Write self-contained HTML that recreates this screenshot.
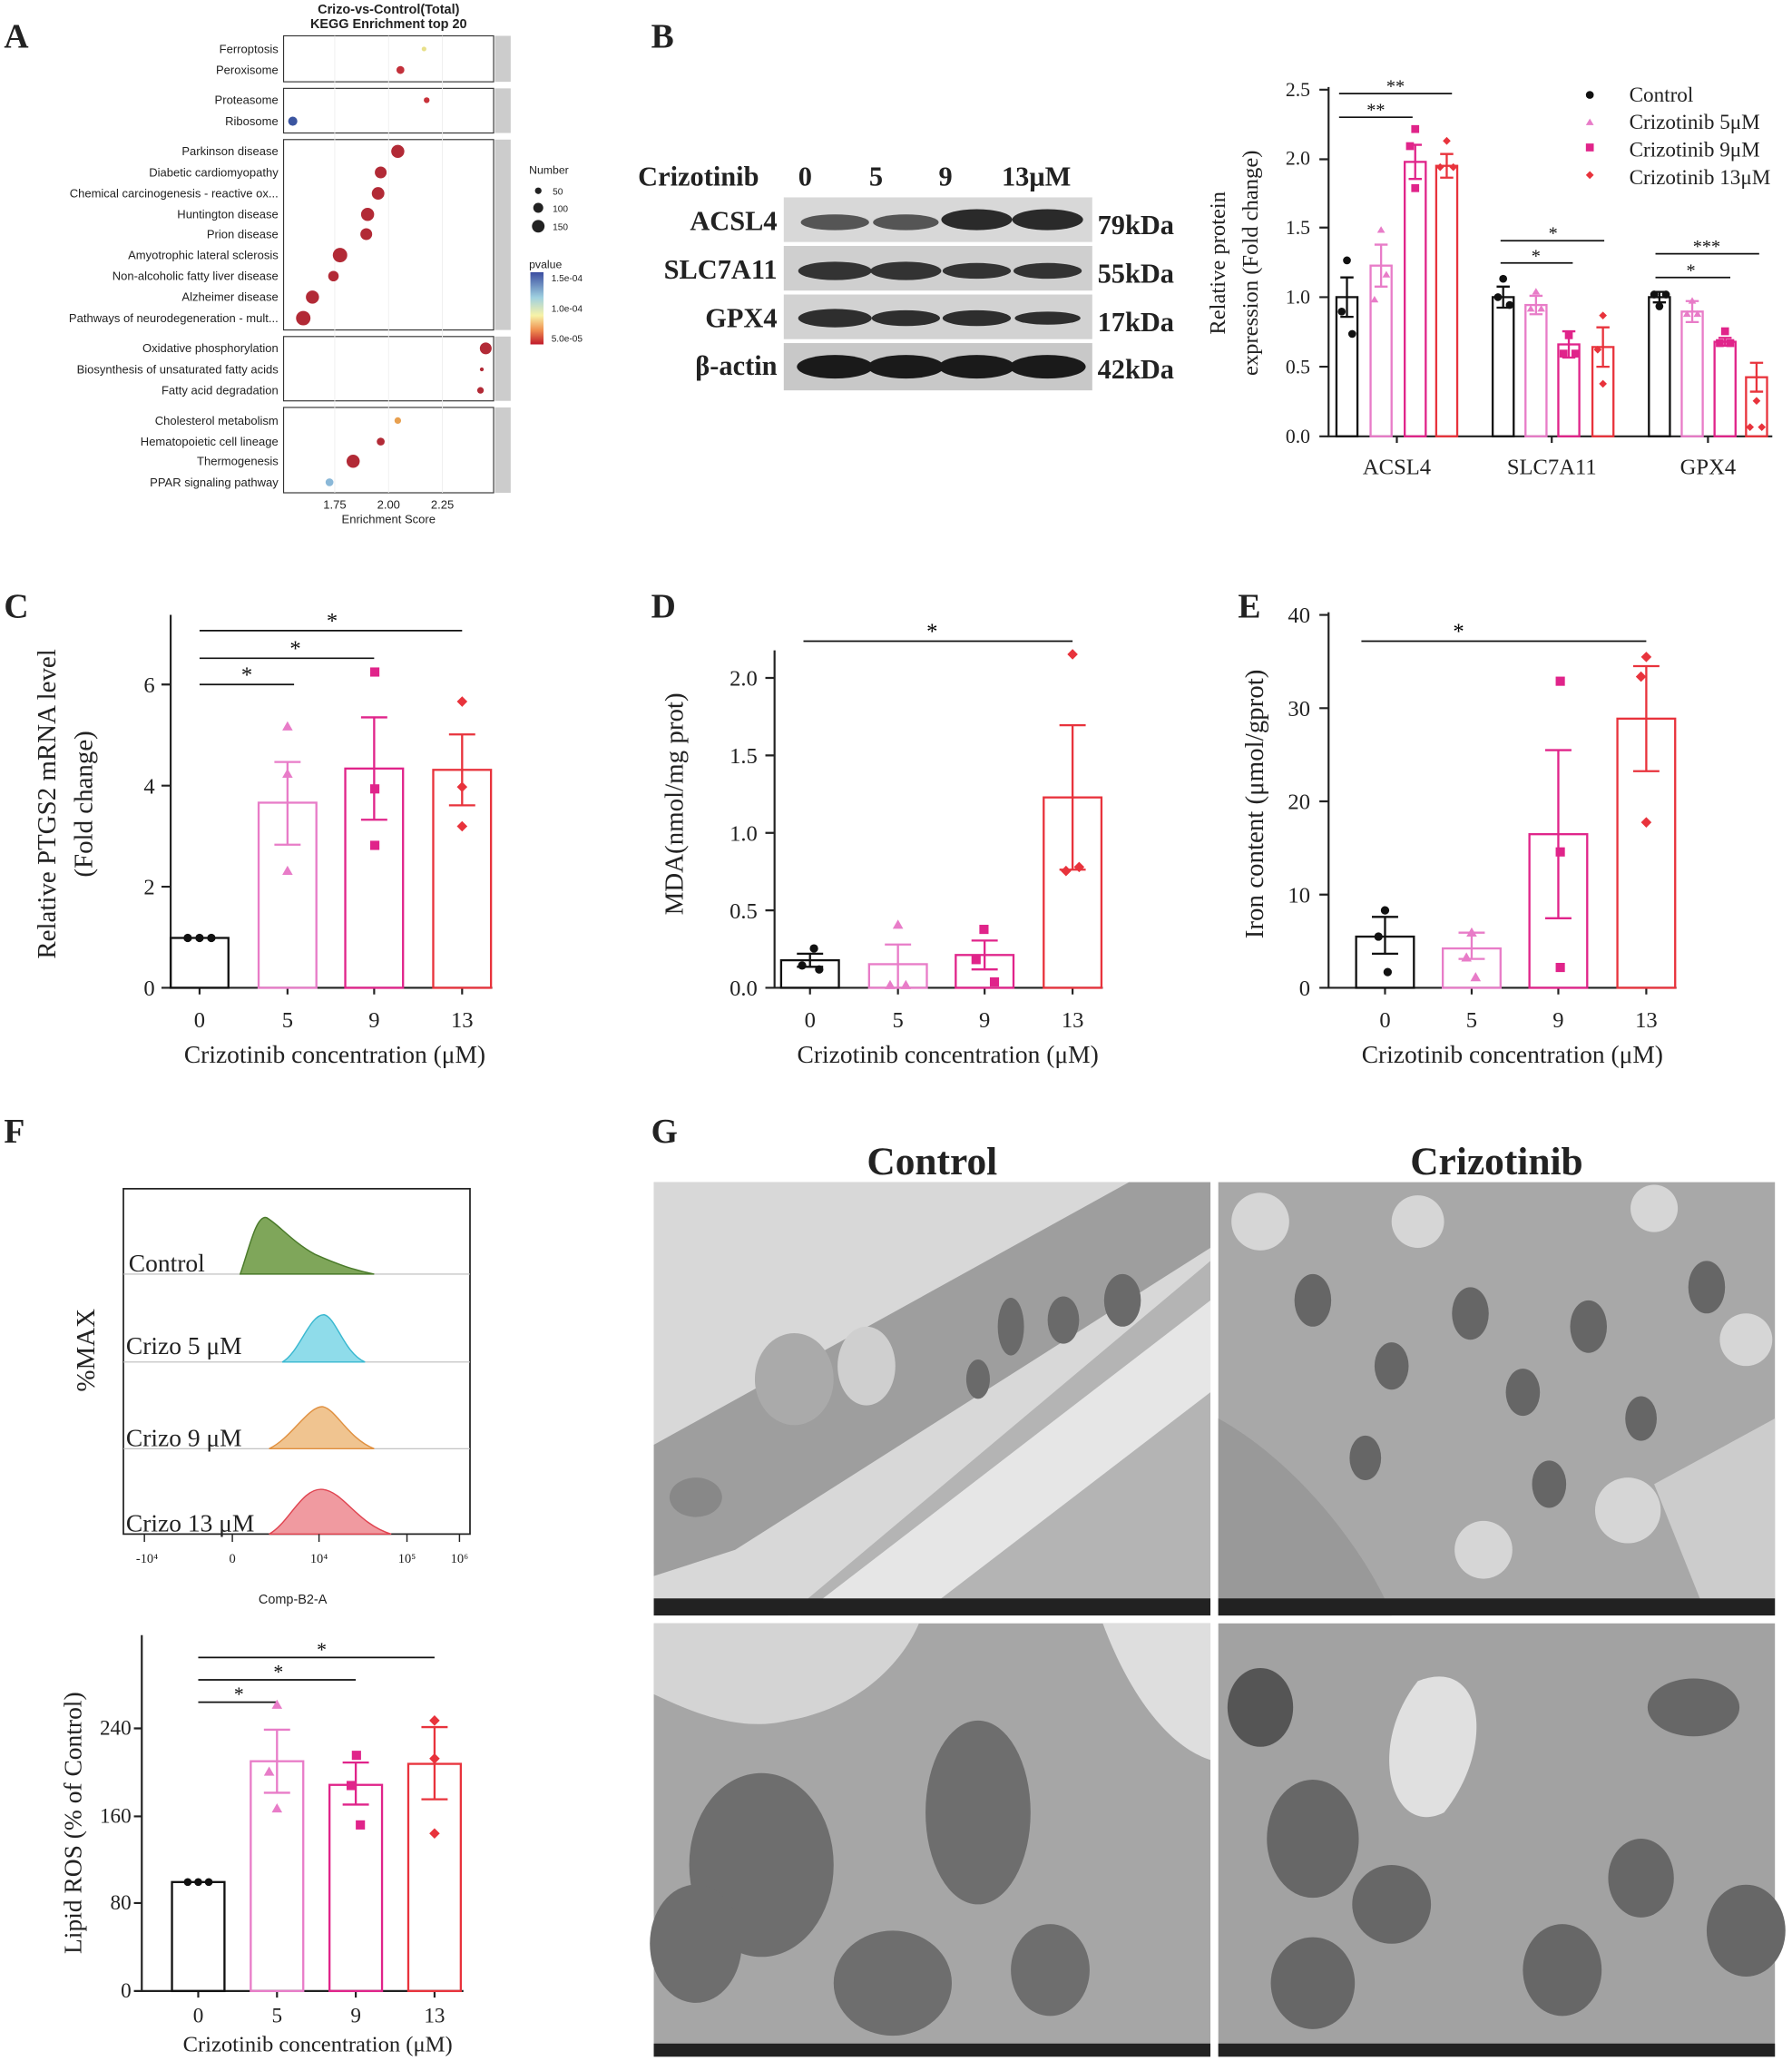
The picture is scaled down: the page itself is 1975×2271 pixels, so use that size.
<!DOCTYPE html>
<html><head><meta charset="utf-8"><style>
html,body{margin:0;padding:0;background:#fff}
svg{display:block}
.s{font-family:"Liberation Sans",sans-serif}
.t{font-family:"Liberation Serif",serif}
</style></head><body>
<svg width="1975" height="2271" viewBox="0 0 1365 1569" xmlns="http://www.w3.org/2000/svg">
<rect width="1365" height="1569" fill="#fff"/>
<!-- Panel letters -->
<g class="t" font-weight="bold" font-size="26" fill="#222">
<text x="3" y="36">A</text><text x="496" y="36">B</text><text x="3" y="470">C</text>
<text x="496" y="470">D</text><text x="943" y="470">E</text><text x="3" y="870">F</text><text x="496" y="870">G</text>
</g>
<!-- Panel A -->
<g class="s" font-size="9" fill="#222">
<text x="296" y="10" text-anchor="middle" font-weight="bold" font-size="10">Crizo-vs-Control(Total)</text>
<text x="296" y="21" text-anchor="middle" font-weight="bold" font-size="10">KEGG Enrichment top 20</text>
<g fill="none" stroke="#333" stroke-width="0.8">
<rect x="216" y="27" width="160" height="35"/><rect x="216" y="67" width="160" height="34"/>
<rect x="216" y="106" width="160" height="145"/><rect x="216" y="256" width="160" height="49"/>
<rect x="216" y="310" width="160" height="65"/>
</g>
<g fill="#ccc"><rect x="377" y="27" width="12" height="35"/><rect x="377" y="67" width="12" height="34"/><rect x="377" y="106" width="12" height="145"/><rect x="377" y="256" width="12" height="49"/><rect x="377" y="310" width="12" height="65"/></g>
<g stroke="#eee" stroke-width="0.6"><line x1="255" y1="27" x2="255" y2="375"/><line x1="296" y1="27" x2="296" y2="375"/><line x1="337" y1="27" x2="337" y2="375"/></g>
<g text-anchor="end">
<text x="212" y="40">Ferroptosis</text><text x="212" y="56">Peroxisome</text>
<text x="212" y="79">Proteasome</text><text x="212" y="95">Ribosome</text>
<text x="212" y="118">Parkinson disease</text><text x="212" y="134">Diabetic cardiomyopathy</text>
<text x="212" y="150">Chemical carcinogenesis - reactive ox...</text><text x="212" y="166">Huntington disease</text>
<text x="212" y="181">Prion disease</text><text x="212" y="197">Amyotrophic lateral sclerosis</text>
<text x="212" y="213">Non-alcoholic fatty liver disease</text><text x="212" y="229">Alzheimer disease</text>
<text x="212" y="245">Pathways of neurodegeneration - mult...</text>
<text x="212" y="268">Oxidative phosphorylation</text><text x="212" y="284">Biosynthesis of unsaturated fatty acids</text>
<text x="212" y="300">Fatty acid degradation</text>
<text x="212" y="323">Cholesterol metabolism</text><text x="212" y="339">Hematopoietic cell lineage</text>
<text x="212" y="354">Thermogenesis</text><text x="212" y="370">PPAR signaling pathway</text>
</g>
<g fill="#b22a36">
<circle cx="323" cy="37" r="1.8" fill="#e8e08a"/><circle cx="305" cy="53" r="3" fill="#c3303a"/>
<circle cx="325" cy="76" r="2.2" fill="#c8323a"/><circle cx="223" cy="92" r="3.5" fill="#3b55a0"/>
<circle cx="303" cy="115" r="5"/><circle cx="290" cy="131" r="4.5"/><circle cx="288" cy="147" r="4.8"/>
<circle cx="280" cy="163" r="5"/><circle cx="279" cy="178" r="4.5"/><circle cx="259" cy="194" r="5.5"/>
<circle cx="254" cy="210" r="4"/><circle cx="238" cy="226" r="5"/><circle cx="231" cy="242" r="5.5"/>
<circle cx="370" cy="265" r="4.5"/><circle cx="367" cy="281" r="1.5"/><circle cx="366" cy="297" r="2.5"/>
<circle cx="303" cy="320" r="2.5" fill="#e8a050"/><circle cx="290" cy="336" r="3"/><circle cx="269" cy="351" r="5"/>
<circle cx="251" cy="367" r="3" fill="#8ab8d8"/>
</g>
<g font-size="9" text-anchor="middle"><text x="255" y="387">1.75</text><text x="296" y="387">2.00</text><text x="337" y="387">2.25</text><text x="296" y="398">Enrichment Score</text></g>
<text x="403" y="132" font-size="8.5">Number</text>
<circle cx="410" cy="145" r="2.5"/><circle cx="410" cy="158" r="3.8"/><circle cx="410" cy="172" r="4.8"/>
<g font-size="7"><text x="421" y="148">50</text><text x="421" y="161">100</text><text x="421" y="175">150</text></g>
<text x="403" y="204" font-size="8.5">pvalue</text>
<defs><linearGradient id="pv" x1="0" y1="0" x2="0" y2="1"><stop offset="0" stop-color="#3b4ca0"/><stop offset="0.35" stop-color="#9fd0e0"/><stop offset="0.6" stop-color="#f7f3a8"/><stop offset="0.8" stop-color="#f09050"/><stop offset="1" stop-color="#c0182a"/></linearGradient></defs>
<rect x="404" y="207" width="10" height="55" fill="url(#pv)"/>
<g font-size="7"><text x="420" y="214">1.5e-04</text><text x="420" y="237">1.0e-04</text><text x="420" y="260">5.0e-05</text></g>
</g>
<!-- Panel B blot -->
<g class="t" font-weight="bold" font-size="21" fill="#222">
<text x="486" y="141">Crizotinib</text><text x="608" y="141">0</text><text x="662" y="141">5</text><text x="715" y="141">9</text><text x="763" y="141">13μM</text>
<text x="592" y="175" text-anchor="end">ACSL4</text><text x="592" y="212" text-anchor="end">SLC7A11</text>
<text x="592" y="249" text-anchor="end">GPX4</text><text x="592" y="285" text-anchor="end">β-actin</text>
<text x="836" y="178">79kDa</text><text x="836" y="215">55kDa</text><text x="836" y="252">17kDa</text><text x="836" y="288">42kDa</text>
</g>
<g>
<rect x="597" y="150" width="235" height="34" fill="#d8d8d8"/><rect x="597" y="187" width="235" height="34" fill="#cfcfcf"/>
<rect x="597" y="224" width="235" height="34" fill="#d2d2d2"/><rect x="597" y="261" width="235" height="36" fill="#c8c8c8"/>
<g fill="#555"><ellipse cx="636" cy="169" rx="26" ry="6"/><ellipse cx="690" cy="169" rx="25" ry="6"/><ellipse cx="744" cy="167" rx="27" ry="8" fill="#2a2a2a"/><ellipse cx="798" cy="167" rx="27" ry="8" fill="#2a2a2a"/></g>
<g fill="#333"><ellipse cx="636" cy="206" rx="28" ry="7"/><ellipse cx="690" cy="206" rx="27" ry="7"/><ellipse cx="744" cy="206" rx="26" ry="6"/><ellipse cx="798" cy="206" rx="26" ry="6"/></g>
<g fill="#2e2e2e"><ellipse cx="636" cy="242" rx="28" ry="7"/><ellipse cx="690" cy="242" rx="26" ry="6"/><ellipse cx="744" cy="242" rx="26" ry="6"/><ellipse cx="798" cy="242" rx="25" ry="5"/></g>
<g fill="#1a1a1a"><ellipse cx="636" cy="279" rx="29" ry="9"/><ellipse cx="690" cy="279" rx="29" ry="9"/><ellipse cx="744" cy="279" rx="29" ry="9"/><ellipse cx="798" cy="279" rx="29" ry="9"/></g>
</g>
<!-- Panel B chart -->
<g class="t" fill="#222" font-size="17">
<text transform="translate(933,200) rotate(-90)" text-anchor="middle">Relative protein</text>
<text transform="translate(958,200) rotate(-90)" text-anchor="middle">expression (Fold change)</text>
<g text-anchor="end" font-size="15"><text x="998" y="337">0.0</text><text x="998" y="284">0.5</text><text x="998" y="231">1.0</text><text x="998" y="178">1.5</text><text x="998" y="125">2.0</text><text x="998" y="73">2.5</text></g>
<g text-anchor="middle" font-size="17"><text x="1064" y="361">ACSL4</text><text x="1182" y="361">SLC7A11</text><text x="1301" y="361">GPX4</text></g>
<g font-size="16"><text x="1241" y="77">Control</text><text x="1241" y="98">Crizotinib 5μM</text><text x="1241" y="119">Crizotinib 9μM</text><text x="1241" y="140">Crizotinib 13μM</text></g>
</g>
<circle cx="1211" cy="72" r="3" fill="#111"/><path d="M1211,90 l3,5 h-6z" fill="#e87cc8"/><rect x="1208" y="109" width="6" height="6" fill="#e0248a"/><path d="M1211,130 l3,3 -3,3 -3,-3z" fill="#e8333c"/>
<g stroke="#222" stroke-width="1.5" fill="none"><path d="M1012,66 V332 H1350"/>
<path d="M1005,332h7M1005,279h7M1005,226h7M1005,173h7M1005,121h7M1005,68h7M1064,332v5M1182,332v5M1301,332v5"/></g>
<g stroke-width="1.6" fill="none">
<rect x="1018" y="226" width="16" height="106" stroke="#111"/><rect x="1044" y="202" width="16" height="130" stroke="#e87cc8"/><rect x="1070" y="123" width="16" height="209" stroke="#e0248a"/><rect x="1094" y="126" width="16" height="206" stroke="#e8333c"/>
<rect x="1137" y="226" width="16" height="106" stroke="#111"/><rect x="1162" y="232" width="16" height="100" stroke="#e87cc8"/><rect x="1187" y="262" width="16" height="70" stroke="#e0248a"/><rect x="1213" y="264" width="16" height="68" stroke="#e8333c"/>
<rect x="1256" y="226" width="16" height="106" stroke="#111"/><rect x="1281" y="237" width="16" height="95" stroke="#e87cc8"/><rect x="1306" y="260" width="16" height="72" stroke="#e0248a"/><rect x="1330" y="287" width="16" height="45" stroke="#e8333c"/>
<path d="M1026,211v30M1021,211h10M1021,241h10" stroke="#111"/><path d="M1052,186v32M1047,186h10M1047,218h10" stroke="#e87cc8"/>
<path d="M1078,110v26M1073,110h10M1073,136h10" stroke="#e0248a"/><path d="M1102,117v18M1097,117h10M1097,135h10" stroke="#e8333c"/>
<path d="M1145,218v16M1140,218h10M1140,234h10" stroke="#111"/><path d="M1170,225v14M1165,225h10M1165,239h10" stroke="#e87cc8"/>
<path d="M1195,252v20M1190,252h10M1190,272h10" stroke="#e0248a"/><path d="M1221,249v30M1216,249h10M1216,279h10" stroke="#e8333c"/>
<path d="M1264,222v8M1259,222h10M1259,230h10" stroke="#111"/><path d="M1289,229v16M1284,229h10M1284,245h10" stroke="#e87cc8"/>
<path d="M1314,257v6M1309,257h10M1309,263h10" stroke="#e0248a"/><path d="M1338,276v22M1333,276h10M1333,298h10" stroke="#e8333c"/>
</g>
<g stroke="#111" stroke-width="1.2"><path d="M1020,71H1106M1020,89H1076M1143,183H1222M1143,200H1198M1261,193H1340M1261,211H1318"/></g>
<g class="t" font-size="14" text-anchor="middle" fill="#111"><text x="1063" y="70">**</text><text x="1048" y="88">**</text><text x="1183" y="182">*</text><text x="1170" y="199">*</text><text x="1300" y="192">***</text><text x="1288" y="210">*</text></g>
<g fill="#111"><circle cx="1026" cy="198" r="3"/><circle cx="1022" cy="237" r="3"/><circle cx="1030" cy="254" r="3"/>
<circle cx="1141" cy="226" r="3"/><circle cx="1145" cy="212" r="3"/><circle cx="1150" cy="232" r="3"/>
<circle cx="1260" cy="224" r="3"/><circle cx="1264" cy="233" r="3"/><circle cx="1269" cy="224" r="3"/></g>
<g fill="#e87cc8"><path d="M1052,172l3,5h-6zM1047,225l3,5h-6zM1056,206l3,5h-6zM1170,219l3,5h-6zM1166,232l3,5h-6zM1174,232l3,5h-6zM1289,226l3,5h-6zM1285,236l3,5h-6zM1293,236l3,5h-6z"/></g>
<g fill="#e0248a"><rect x="1075" y="95" width="6" height="6"/><rect x="1071" y="108" width="6" height="6"/><rect x="1075" y="140" width="6" height="6"/><rect x="1192" y="252" width="6" height="6"/><rect x="1188" y="266" width="6" height="6"/><rect x="1197" y="266" width="6" height="6"/><rect x="1311" y="249" width="6" height="6"/><rect x="1307" y="258" width="6" height="6"/><rect x="1315" y="258" width="6" height="6"/></g>
<g fill="#e8333c"><path d="M1102,104l3,3-3,3-3-3zM1097,124l3,3-3,3-3-3zM1107,124l3,3-3,3-3-3zM1221,237l3,3-3,3-3-3zM1217,263l3,3-3,3-3-3zM1221,289l3,3-3,3-3-3zM1338,302l3,3-3,3-3-3zM1333,322l3,3-3,3-3-3zM1342,322l3,3-3,3-3-3z"/></g>
<!-- Panel C -->
<g class="t" fill="#222">
<text transform="translate(42,612) rotate(-90)" text-anchor="middle" font-size="20">Relative PTGS2 mRNA level</text>
<text transform="translate(70,612) rotate(-90)" text-anchor="middle" font-size="20">(Fold change)</text>
<g text-anchor="end" font-size="17"><text x="118" y="758">0</text><text x="118" y="681">2</text><text x="118" y="604">4</text><text x="118" y="527">6</text></g>
<g text-anchor="middle" font-size="17"><text x="152" y="782">0</text><text x="219" y="782">5</text><text x="285" y="782">9</text><text x="352" y="782">13</text></g>
<text x="255" y="809" text-anchor="middle" font-size="19">Crizotinib  concentration (μM)</text>
</g>
<g stroke="#222" stroke-width="1.5" fill="none"><path d="M130,468V752H375M123,752h7M123,675h7M123,598h7M123,521h7M152,752v5M219,752v5M285,752v5M352,752v5"/></g>
<g stroke-width="1.6" fill="none">
<rect x="130" y="714" width="44" height="38" stroke="#111"/><rect x="197" y="611" width="44" height="141" stroke="#e87cc8"/><rect x="263" y="585" width="44" height="167" stroke="#e0248a"/><rect x="330" y="586" width="44" height="166" stroke="#e8333c"/>
<path d="M219,580v63M209,580h20M209,643h20" stroke="#e87cc8"/><path d="M285,546v78M275,546h20M275,624h20" stroke="#e0248a"/><path d="M352,559v54M342,559h20M342,613h20" stroke="#e8333c"/>
</g>
<g stroke="#111" stroke-width="1.2"><path d="M152,480H352M152,501H285M152,521H224"/></g>
<g class="t" font-size="17" text-anchor="middle" fill="#111"><text x="253" y="478">*</text><text x="225" y="499">*</text><text x="188" y="519">*</text></g>
<g fill="#111"><circle cx="143" cy="714" r="3.2"/><circle cx="152" cy="714" r="3.2"/><circle cx="161" cy="714" r="3.2"/></g>
<g fill="#e87cc8"><path d="M219,549l4,7h-8zM219,659l4,7h-8zM219,585l4,7h-8z"/></g>
<g fill="#e0248a"><rect x="282" y="508" width="7" height="7"/><rect x="282" y="597" width="7" height="7"/><rect x="282" y="640" width="7" height="7"/></g>
<g fill="#e8333c"><path d="M352,530l4,4-4,4-4-4zM352,595l4,4-4,4-4-4zM352,625l4,4-4,4-4-4z"/></g>
<!-- Panel D -->
<g class="t" fill="#222">
<text transform="translate(520,612) rotate(-90)" text-anchor="middle" font-size="20">MDA(nmol/mg prot)</text>
<g text-anchor="end" font-size="17"><text x="577" y="758">0.0</text><text x="577" y="699">0.5</text><text x="577" y="640">1.0</text><text x="577" y="581">1.5</text><text x="577" y="522">2.0</text></g>
<g text-anchor="middle" font-size="17"><text x="617" y="782">0</text><text x="684" y="782">5</text><text x="750" y="782">9</text><text x="817" y="782">13</text></g>
<text x="722" y="809" text-anchor="middle" font-size="19">Crizotinib concentration (μM)</text>
</g>
<g stroke="#222" stroke-width="1.5" fill="none"><path d="M590,495V752H840M583,752h7M583,693h7M583,634h7M583,575h7M583,516h7M617,752v5M684,752v5M750,752v5M817,752v5"/></g>
<g stroke-width="1.6" fill="none">
<rect x="595" y="731" width="44" height="21" stroke="#111"/><rect x="662" y="734" width="44" height="18" stroke="#e87cc8"/><rect x="728" y="727" width="44" height="25" stroke="#e0248a"/><rect x="795" y="607" width="44" height="145" stroke="#e8333c"/>
<path d="M617,726v10M607,726h20M607,736h20" stroke="#111"/><path d="M684,719v33M674,719h20" stroke="#e87cc8"/><path d="M750,716v22M740,716h20M740,738h20" stroke="#e0248a"/><path d="M817,552v110M807,552h20M807,662h20" stroke="#e8333c"/>
</g>
<path d="M612,488H817" stroke="#111" stroke-width="1.2"/><text class="t" x="710" y="486" font-size="17" text-anchor="middle">*</text>
<g fill="#111"><circle cx="620" cy="722" r="3.2"/><circle cx="611" cy="735" r="3.2"/><circle cx="624" cy="738" r="3.2"/></g>
<g fill="#e87cc8"><path d="M684,700l4,7h-8zM678,746l4,7h-8zM690,746l4,7h-8z"/></g>
<g fill="#e0248a"><rect x="746" y="704" width="7" height="7"/><rect x="740" y="727" width="7" height="7"/><rect x="754" y="744" width="7" height="7"/></g>
<g fill="#e8333c"><path d="M817,494l4,4-4,4-4-4zM812,659l4,4-4,4-4-4zM822,656l4,4-4,4-4-4z"/></g>
<!-- Panel E -->
<g class="t" fill="#222">
<text transform="translate(962,612) rotate(-90)" text-anchor="middle" font-size="20">Iron content (μmol/gprot)</text>
<g text-anchor="end" font-size="17"><text x="998" y="758">0</text><text x="998" y="687">10</text><text x="998" y="616">20</text><text x="998" y="545">30</text><text x="998" y="474">40</text></g>
<g text-anchor="middle" font-size="17"><text x="1055" y="782">0</text><text x="1121" y="782">5</text><text x="1187" y="782">9</text><text x="1254" y="782">13</text></g>
<text x="1152" y="809" text-anchor="middle" font-size="19">Crizotinib concentration (μM)</text>
</g>
<g stroke="#222" stroke-width="1.5" fill="none"><path d="M1012,466V752H1277M1005,752h7M1005,681h7M1005,610h7M1005,539h7M1005,468h7M1055,752v5M1121,752v5M1187,752v5M1254,752v5"/></g>
<g stroke-width="1.6" fill="none">
<rect x="1033" y="713" width="44" height="39" stroke="#111"/><rect x="1099" y="722" width="44" height="30" stroke="#e87cc8"/><rect x="1165" y="635" width="44" height="117" stroke="#e0248a"/><rect x="1232" y="547" width="44" height="205" stroke="#e8333c"/>
<path d="M1055,698v28M1045,698h20M1045,726h20" stroke="#111"/><path d="M1121,710v20M1111,710h20M1111,730h20" stroke="#e87cc8"/><path d="M1187,571v128M1177,571h20M1177,699h20" stroke="#e0248a"/><path d="M1254,507v80M1244,507h20M1244,587h20" stroke="#e8333c"/>
</g>
<path d="M1037,488H1254" stroke="#111" stroke-width="1.2"/><text class="t" x="1111" y="486" font-size="17" text-anchor="middle">*</text>
<g fill="#111"><circle cx="1055" cy="693" r="3.2"/><circle cx="1050" cy="713" r="3.2"/><circle cx="1057" cy="740" r="3.2"/></g>
<g fill="#e87cc8"><path d="M1121,706l4,7h-8zM1117,725l4,7h-8zM1124,740l4,7h-8z"/></g>
<g fill="#e0248a"><rect x="1185" y="515" width="7" height="7"/><rect x="1185" y="645" width="7" height="7"/><rect x="1185" y="733" width="7" height="7"/></g>
<g fill="#e8333c"><path d="M1254,496l4,4-4,4-4-4zM1250,511l4,4-4,4-4-4zM1254,622l4,4-4,4-4-4z"/></g>
<!-- Panel F flow -->
<rect x="94" y="905" width="264" height="263" fill="none" stroke="#222" stroke-width="1.2"/>
<g stroke="#bbb" stroke-width="0.8"><line x1="94" y1="970" x2="358" y2="970"/><line x1="94" y1="1037" x2="358" y2="1037"/><line x1="94" y1="1103" x2="358" y2="1103"/></g>
<path d="M183,970 C190,950 195,925 203,927 C212,932 222,945 240,955 C258,963 270,967 285,970Z" fill="#7fa65a" stroke="#4a7a2a"/>
<path d="M215,1037 C228,1030 236,1000 247,1001 C256,1003 262,1030 278,1037Z" fill="#8fdcea" stroke="#3ab8d0"/>
<path d="M205,1103 C222,1095 235,1070 246,1071 C256,1073 265,1095 285,1103Z" fill="#f0c490" stroke="#e09040"/>
<path d="M205,1168 C220,1160 230,1132 246,1134 C262,1136 272,1160 298,1168Z" fill="#f09aa0" stroke="#e04450"/>
<g class="t" font-size="19" fill="#222"><text x="98" y="968">Control</text><text x="96" y="1031">Crizo 5 μM</text><text x="96" y="1101">Crizo 9 μM</text><text x="96" y="1166">Crizo 13 μM</text>
<text transform="translate(72,1028) rotate(-90)" text-anchor="middle" font-size="20">%MAX</text></g>
<g stroke="#222" stroke-width="1"><path d="M110,1168v6M177,1168v6M243,1168v6M310,1168v6M350,1168v6"/></g>
<g class="t" font-size="10" fill="#222" text-anchor="middle"><text x="112" y="1190">-10⁴</text><text x="177" y="1190">0</text><text x="243" y="1190">10⁴</text><text x="310" y="1190">10⁵</text><text x="350" y="1190">10⁶</text></g>
<text class="s" x="223" y="1221" font-size="10" text-anchor="middle" fill="#222">Comp-B2-A</text>
<!-- Lipid ROS -->
<g class="t" fill="#222">
<text transform="translate(62,1388) rotate(-90)" text-anchor="middle" font-size="19">Lipid ROS (% of Control)</text>
<g text-anchor="end" font-size="16"><text x="100" y="1521">0</text><text x="100" y="1454">80</text><text x="100" y="1388">160</text><text x="100" y="1321">240</text></g>
<g text-anchor="middle" font-size="16"><text x="151" y="1540">0</text><text x="211" y="1540">5</text><text x="271" y="1540">9</text><text x="331" y="1540">13</text></g>
<text x="242" y="1562" text-anchor="middle" font-size="17">Crizotinib concentration (μM)</text>
</g>
<g stroke="#222" stroke-width="1.5" fill="none"><path d="M108,1245V1516H353M102,1516h6M102,1449h6M102,1383h6M102,1316h6M151,1516v5M211,1516v5M271,1516v5M331,1516v5"/></g>
<g stroke-width="1.6" fill="none">
<rect x="131" y="1433" width="40" height="83" stroke="#111"/><rect x="191" y="1341" width="40" height="175" stroke="#e87cc8"/><rect x="251" y="1359" width="40" height="157" stroke="#e0248a"/><rect x="311" y="1343" width="40" height="173" stroke="#e8333c"/>
<path d="M211,1317v48M201,1317h20M201,1365h20" stroke="#e87cc8"/><path d="M271,1342v32M261,1342h20M261,1374h20" stroke="#e0248a"/><path d="M331,1315v55M321,1315h20M321,1370h20" stroke="#e8333c"/>
</g>
<g stroke="#111" stroke-width="1.2"><path d="M151,1262H331M151,1279H271M151,1296H211"/></g>
<g class="t" font-size="15" text-anchor="middle" fill="#111"><text x="245" y="1261">*</text><text x="212" y="1278">*</text><text x="182" y="1295">*</text></g>
<g fill="#111"><circle cx="143" cy="1433" r="3"/><circle cx="151" cy="1433" r="3"/><circle cx="159" cy="1433" r="3"/></g>
<g fill="#e87cc8"><path d="M211,1294l4,7h-8zM205,1345l4,7h-8zM211,1373l4,7h-8z"/></g>
<g fill="#e0248a"><rect x="268" y="1333" width="7" height="7"/><rect x="264" y="1356" width="7" height="7"/><rect x="271" y="1386" width="7" height="7"/></g>
<g fill="#e8333c"><path d="M331,1306l4,4-4,4-4-4zM331,1335l4,4-4,4-4-4zM331,1392l4,4-4,4-4-4z"/></g>
<!-- Panel G -->
<g class="t" font-weight="bold" font-size="30" fill="#222" text-anchor="middle"><text x="710" y="894">Control</text><text x="1140" y="894">Crizotinib</text></g>
<rect x="498" y="900" width="424" height="330" fill="#b4b4b4"/>
<path d="M498,900H922V960L600,1230H498Z" fill="#d8d8d8"/>
<path d="M610,1230L922,990V1060L700,1230Z" fill="#e6e6e6"/>
<path d="M498,1100L860,900H922V950L560,1180L498,1200Z" fill="#9e9e9e"/>
<g fill="#6a6a6a"><ellipse cx="605" cy="1050" rx="30" ry="35" fill="#aaa"/><ellipse cx="660" cy="1040" rx="22" ry="30" fill="#cfcfcf"/><ellipse cx="770" cy="1010" rx="10" ry="22"/><ellipse cx="810" cy="1005" rx="12" ry="18"/><ellipse cx="855" cy="990" rx="14" ry="20"/><ellipse cx="745" cy="1050" rx="9" ry="15"/><ellipse cx="530" cy="1140" rx="20" ry="15" fill="#888"/></g>
<rect x="928" y="900" width="424" height="330" fill="#a8a8a8"/>
<path d="M928,1080 C1000,1120 1050,1200 1060,1230H928Z" fill="#999"/>
<path d="M1260,1130L1352,1080V1230H1300Z" fill="#ccc"/>
<g fill="#666"><ellipse cx="1000" cy="990" rx="14" ry="20"/><ellipse cx="1060" cy="1040" rx="13" ry="18"/><ellipse cx="1120" cy="1000" rx="14" ry="20"/><ellipse cx="1160" cy="1060" rx="13" ry="18"/><ellipse cx="1210" cy="1010" rx="14" ry="20"/><ellipse cx="1250" cy="1080" rx="12" ry="17"/><ellipse cx="1300" cy="980" rx="14" ry="20"/><ellipse cx="1040" cy="1110" rx="12" ry="17"/><ellipse cx="1180" cy="1130" rx="13" ry="18"/></g>
<g fill="#d6d6d6"><circle cx="960" cy="930" r="22"/><circle cx="1080" cy="930" r="20"/><circle cx="1260" cy="920" r="18"/><circle cx="1130" cy="1180" r="22"/><circle cx="1240" cy="1150" r="25"/><circle cx="1330" cy="1020" r="20"/></g>
<rect x="498" y="1236" width="424" height="330" fill="#a6a6a6"/>
<path d="M498,1236H700C690,1260 660,1300 600,1310C560,1320 520,1300 498,1290Z" fill="#d4d4d4"/>
<path d="M840,1236H922V1340C890,1330 860,1290 840,1236Z" fill="#dedede"/>
<g fill="#6e6e6e"><ellipse cx="580" cy="1420" rx="55" ry="70"/><ellipse cx="745" cy="1380" rx="40" ry="70"/><ellipse cx="680" cy="1510" rx="45" ry="40"/><ellipse cx="530" cy="1480" rx="35" ry="45"/><ellipse cx="800" cy="1500" rx="30" ry="35"/></g>
<rect x="928" y="1236" width="424" height="330" fill="#a2a2a2"/>
<path d="M1080,1280C1130,1260 1140,1330 1100,1380C1060,1400 1040,1330 1080,1280Z" fill="#e0e0e0"/>
<g fill="#676767"><ellipse cx="1000" cy="1400" rx="35" ry="45"/><ellipse cx="1060" cy="1450" rx="30" ry="30"/><ellipse cx="1190" cy="1500" rx="30" ry="35"/><ellipse cx="1290" cy="1300" rx="35" ry="22"/><ellipse cx="1330" cy="1470" rx="30" ry="35"/><ellipse cx="1000" cy="1510" rx="32" ry="35"/><ellipse cx="1250" cy="1430" rx="25" ry="30"/><ellipse cx="960" cy="1300" rx="25" ry="30" fill="#555"/></g>
<g fill="#222"><rect x="498" y="1217" width="424" height="13"/><rect x="928" y="1217" width="424" height="13"/><rect x="498" y="1556" width="424" height="10"/><rect x="928" y="1556" width="424" height="10"/></g>
</svg>
</body></html>
